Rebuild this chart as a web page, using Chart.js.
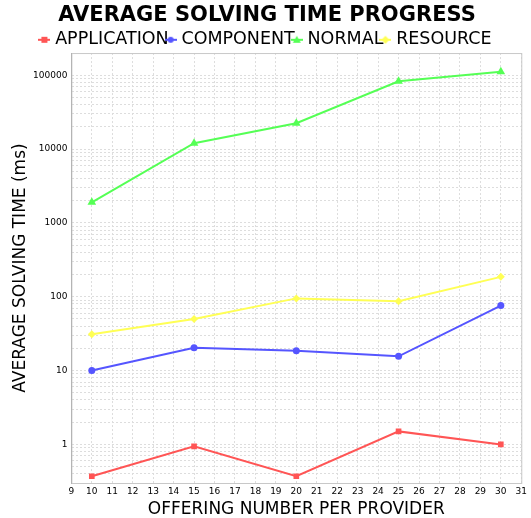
<!DOCTYPE html>
<html>
<head>
<meta charset="utf-8">
<script src="https://cdn.jsdelivr.net/npm/chart.js@4.4.1/dist/chart.umd.min.js"></script>
<style>
  html, body { margin: 0; padding: 0; background: #ffffff; }
  #wrap { width: 531px; height: 518px; }
</style>
</head>
<body>
<div id="wrap"><canvas id="solvingChart"></canvas></div>
<script>
// Offering number per provider (x axis)
const offerings = [10, 15, 20, 25, 30];

// Average solving time in ms
const application = [0.37, 0.94, 0.37, 1.5, 1.0];
const component = [10, 20.4, 18.6, 15.6, 76];
const normal = [1900, 12000, 22400, 83000, 112000];
const resource = [31, 50, 95, 87, 186];

// Tick labels shown on the log axis
const yLabels = [1, 10, 100, 1000, 10000, 100000];

const fontFamily = 'DejaVu Sans, sans-serif';
const gridColor = '#dddddd';

// Small picture for the legend: a short line with the marker on it
function legendIcon(color, style) {
    const c = document.createElement('canvas');
    c.width = 12;
    c.height = 10;
    const g = c.getContext('2d');
    g.strokeStyle = color;
    g.fillStyle = color;
    g.lineWidth = 2;
    g.beginPath();
    g.moveTo(0, 5);
    g.lineTo(12, 5);
    g.stroke();
    g.beginPath();
    if (style === 'rect') {
        g.rect(3, 2, 6, 6);
    } else if (style === 'circle') {
        g.arc(6, 5, 3, 0, Math.PI * 2);
    } else if (style === 'triangle') {
        g.moveTo(6, 1); g.lineTo(10, 8); g.lineTo(2, 8); g.closePath();
    } else {
        g.moveTo(6, 1); g.lineTo(10, 5); g.lineTo(6, 9); g.lineTo(2, 5); g.closePath();
    }
    g.fill();
    return c;
}

function serie(label, values, color, style) {
    return {
        label: label,
        data: offerings.map((x, i) => ({ x: x, y: values[i] })),
        borderColor: color,
        backgroundColor: color,
        borderWidth: 2,
        pointStyle: style,
        pointRadius: style === 'triangle' ? 5 : (style === 'circle' ? 3.5 : 4),
        pointBorderWidth: 0,
        tension: 0,
        legendStyle: legendIcon(color, style),
    };
}

// Draws the grey frame round the plot area
const framePlugin = {
    id: 'frame',
    afterInit(chart) {
        // the legend keeps 10px free under itself; take part of it back
        const legend = chart.legend;
        const fit = legend.fit;
        legend.fit = function () {
            fit.call(this);
            this.height -= 5.5;
        };
    },
    afterDraw(chart) {
        const a = chart.chartArea;
        const c = chart.ctx;
        c.save();
        c.strokeStyle = '#c8c8c8';
        c.lineWidth = 1;
        c.strokeRect(a.left + 0.5, a.top + 0.5, a.right - a.left, a.bottom - a.top);
        c.restore();
    },
};

const ctx = document.getElementById('solvingChart').getContext('2d');

new Chart(ctx, {
    type: 'line',
    data: {
        datasets: [
            serie('APPLICATION', application, '#ff5555', 'rect'),
            serie('COMPONENT', component, '#5555ff', 'circle'),
            serie('NORMAL', normal, '#55ff55', 'triangle'),
            serie('RESOURCE', resource, '#ffff55', 'rectRot'),
        ],
    },
    options: {
        responsive: true,
        maintainAspectRatio: false,
        animation: false,
        layout: { padding: { left: 12, right: 9, top: 0, bottom: 0 } },
        plugins: {
            title: {
                display: true,
                text: 'AVERAGE SOLVING TIME PROGRESS',
                color: '#000000',
                font: { size: 21, weight: 'bold', family: fontFamily, lineHeight: 1.05 },
                padding: { top: 5, bottom: 4 },
            },
            legend: {
                display: true,
                position: 'top',
                labels: {
                    color: '#000000',
                    usePointStyle: true,
                    boxWidth: 4,
                    boxHeight: 10,
                    padding: 0,
                    font: { size: 17.5, family: fontFamily },
                    generateLabels(chart) {
                        return chart.data.datasets.map((ds, i) => ({
                            text: ds.label,
                            fontColor: '#000000',
                            pointStyle: ds.legendStyle,
                            fillStyle: ds.borderColor,
                            strokeStyle: ds.borderColor,
                            lineWidth: 0,
                            hidden: false,
                            datasetIndex: i,
                        }));
                    },
                },
            },
            tooltip: { enabled: false },
        },
        scales: {
            x: {
                type: 'linear',
                min: 9,
                max: 31,
                ticks: {
                    stepSize: 1,
                    color: '#000000',
                    font: { size: 9, family: fontFamily, lineHeight: 1 },
                    padding: 4,
                },
                grid: { color: gridColor, drawTicks: false },
                border: { color: '#909090', dash: [2, 2] },
                title: {
                    display: true,
                    text: 'OFFERING NUMBER PER PROVIDER',
                    color: '#000000',
                    font: { size: 17, family: fontFamily, lineHeight: 1.0 },
                    padding: { top: 1, bottom: 0 },
                },
            },
            y: {
                type: 'logarithmic',
                min: 0.33,
                max: 200000,
                afterBuildTicks(axis) {
                    // one tick for every 1..9 step of each decade, labelled on powers of ten
                    const ticks = [];
                    for (let e = -1; e <= 5; e++) {
                        for (let m = 1; m <= 9; m++) {
                            const v = Number((m * Math.pow(10, e)).toPrecision(3));
                            if (v > axis.min && v < axis.max) ticks.push({ value: v });
                        }
                    }
                    axis.ticks = ticks;
                },
                ticks: {
                    autoSkip: false,
                    color: '#000000',
                    font: { size: 9, family: fontFamily },
                    padding: 4,
                    callback: (v) => (yLabels.includes(v) ? String(v) : ''),
                },
                grid: { color: gridColor, drawTicks: false },
                border: { color: '#909090', dash: [2, 2] },
                title: {
                    display: true,
                    text: 'AVERAGE SOLVING TIME (ms)',
                    color: '#000000',
                    font: { size: 17, family: fontFamily, lineHeight: 1.0 },
                    padding: { top: 0, bottom: 0 },
                },
            },
        },
    },
    plugins: [framePlugin],
});
</script>
</body>
</html>
